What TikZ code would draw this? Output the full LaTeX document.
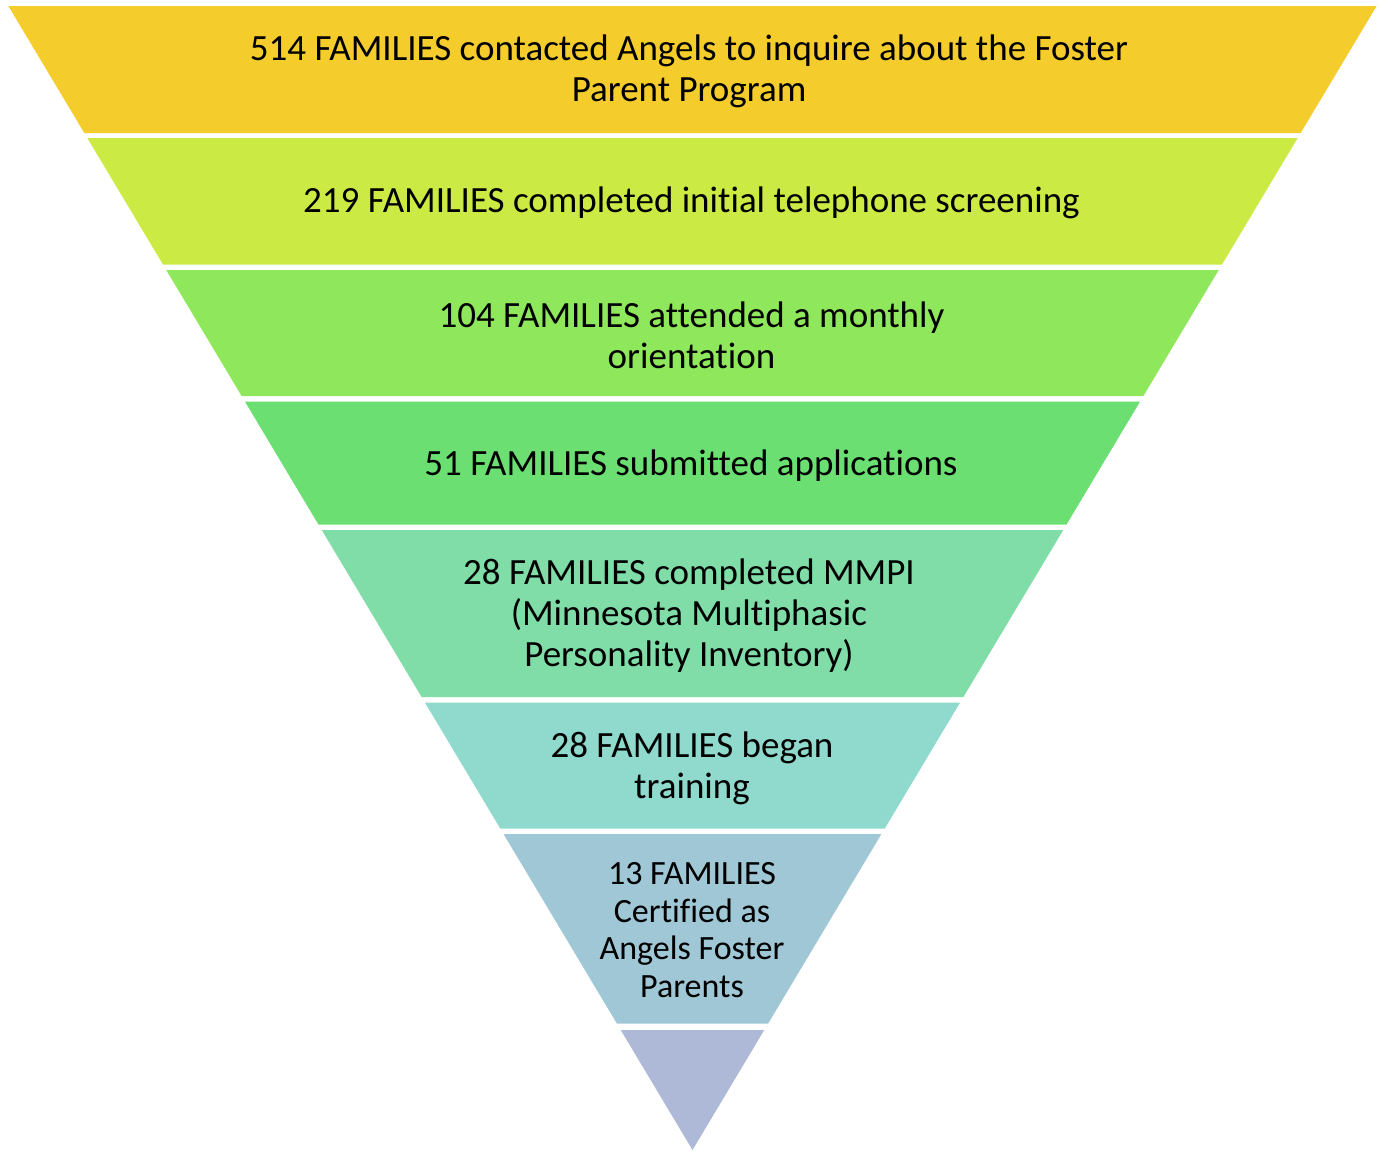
\documentclass[tikz,border=0pt]{standalone}
\usepackage{fontspec}
\setmainfont{Carlito}[Ligatures=NoCommon]
\definecolor{cA}{HTML}{F4CC2C}
\definecolor{cB}{HTML}{CBEB44}
\definecolor{cC}{HTML}{8FE85C}
\definecolor{cD}{HTML}{6BDF72}
\definecolor{cE}{HTML}{80DDA8}
\definecolor{cF}{HTML}{8FD9CD}
\definecolor{cG}{HTML}{A0C7D6}
\definecolor{cH}{HTML}{ADB9D6}
\newcommand{\funnelband}[4]{%
  \fill[#1] ({692.5-0.598*(1150-#2)},#2) -- ({692.5+0.598*(1150-#2)},#2)
    -- ({692.5+0.598*(1150-#3)},#3) -- ({692.5-0.598*(1150-#3)},#3) -- cycle;
  \coordinate (#4) at (692.5,{(#2+#3)/2});}
\begin{document}
\begin{tikzpicture}[x=0.5pt,y=-0.5pt,
  lbl/.style={align=center,inner sep=0pt,text=black,font=\fontsize{18.5}{20.5}\selectfont},
  lblsmall/.style={align=center,inner sep=0pt,text=black,font=\fontsize{17}{18.7}\selectfont}]
\useasboundingbox (0,0) rectangle (1382,1151);
\funnelband{cA}{6}{133}{b1}
\funnelband{cB}{138}{264.5}{b2}
\funnelband{cC}{270}{396}{b3}
\funnelband{cD}{401.5}{524.5}{b4}
\funnelband{cE}{530}{697}{b5}
\funnelband{cF}{702.5}{828.5}{b6}
\funnelband{cG}{834}{1023.5}{b7}
\funnelband{cH}{1030}{1150}{b8}
\node[lbl] (t1) at (689,71.5) {514 FAMILIES contacted Angels to inquire about the Foster\\Parent Program};
\node[lbl] (t2) at (691.5,203) {219 FAMILIES completed initial telephone screening};
\node[lbl] (t3) at (691.5,335) {104 FAMILIES attended a monthly\\orientation};
\node[lbl] (t4) at (691,466) {51 FAMILIES submitted applications};
\node[lbl] (t5) at (689,615.5) {28 FAMILIES completed MMPI\\(Minnesota Multiphasic\\Personality Inventory)};
\node[lbl] (t6) at (692,768.5) {28 FAMILIES began\\training};
\node[lblsmall] (t7) at (692,930) {13 FAMILIES\\Certified as\\Angels Foster\\Parents};
\end{tikzpicture}
\end{document}
